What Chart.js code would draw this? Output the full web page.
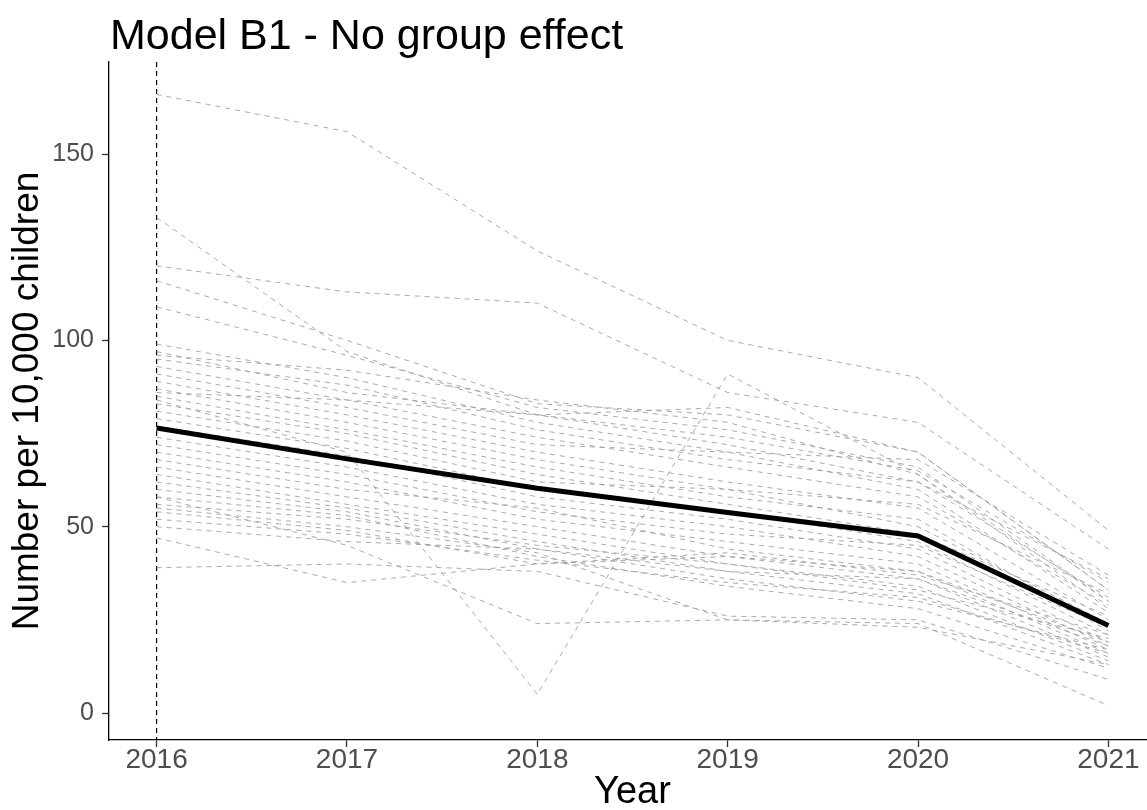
<!DOCTYPE html>
<html>
<head>
<meta charset="utf-8">
<script src="https://cdn.jsdelivr.net/npm/chart.js@4"></script>
<style>
  html, body { margin: 0; padding: 0; overflow: hidden; background: #fff; }
  #wrap { position: relative; width: 1147px; height: 810px; }
  #title {
    position: absolute; left: 110px; top: 13px; margin: 0;
    font: 43px "Liberation Sans", Arial, sans-serif; line-height: 1; color: #000;
    font-weight: normal;
  }
  canvas { position: absolute; left: 0; top: 0; }
</style>
</head>
<body>
<div id="wrap">
  <canvas id="myChart" width="1156" height="810"></canvas>
  <h1 id="title">Model B1 - No group effect</h1>
</div>
<script>
// Jahre und Achsen
const years = [2016, 2017, 2018, 2019, 2020, 2021];
const yTicks = [0, 50, 100, 150];
const refYear = 2016;

// durchgezogene Linie (Modell ohne Gruppeneffekt)
const modelLine = [76.5, 68.2, 60.3, 53.8, 47.5, 23.5];

// einzelne Gruppen (gestrichelt), je Zeile ein Verlauf 2016-2021
const groupValues = [
  [166, 156, 124, 100, 90, 49],
  [133, 97, 80, 72, 62, 36],
  [120, 113, 110, 86, 78, 44],
  [116, 100, 83, 80, 70, 33],
  [109, 96, 82, 76, 66, 30],
  [84, 70, 5, 91, 64, 28],
  [39, 40, 38, 26, 25, 9],
  [47, 35, 40, 42, 38, 19],
  [58, 45, 24, 25, 24, 2],
  [55, 50, 43, 25, 23, 13],
  [99, 90, 78, 70, 68, 37],
  [97, 86, 80, 74, 65, 35],
  [95, 88, 76, 68, 62, 31],
  [93, 84, 74, 66, 58, 29],
  [91, 82, 72, 70, 60, 27],
  [89, 80, 70, 62, 55, 25],
  [87, 78, 68, 60, 56, 32],
  [85, 76, 66, 58, 52, 22],
  [83, 75, 64, 56, 48, 26],
  [81, 73, 62, 60, 50, 24],
  [79, 71, 60, 54, 46, 21],
  [77, 69, 58, 52, 44, 19],
  [74, 66, 56, 50, 42, 18],
  [72, 64, 54, 48, 45, 23],
  [70, 62, 52, 46, 40, 17],
  [68, 60, 55, 44, 38, 16],
  [66, 58, 50, 42, 36, 15],
  [64, 56, 48, 40, 34, 14],
  [62, 55, 46, 38, 32, 13],
  [60, 54, 44, 36, 30, 17],
  [58, 53, 42, 34, 28, 12],
  [56, 52, 45, 40, 33, 20],
  [54, 49, 40, 43, 37, 21],
  [52, 48, 41, 35, 31, 16],
  [50, 46, 44, 38, 36, 18],
  [96, 92, 84, 78, 64, 30],
  [86, 84, 80, 82, 70, 33]
];

const toPoints = vals => vals.map((v, i) => ({ x: years[i], y: v }));

const datasets = [{
  data: toPoints(modelLine),
  borderColor: '#000',
  borderWidth: 5,
  pointRadius: 0,
  tension: 0
}];
groupValues.forEach(row => {
  datasets.push({
    data: toPoints(row),
    borderColor: 'rgba(155,155,155,0.85)',
    borderWidth: 1,
    borderDash: [5, 5],
    pointRadius: 0,
    tension: 0
  });
});

// senkrechte gestrichelte Linie beim Startjahr
const refLine = {
  id: 'refLine',
  beforeDatasetsDraw(chart) {
    const ctx = chart.ctx, area = chart.chartArea;
    const x = chart.scales.x.getPixelForValue(refYear);
    ctx.save();
    ctx.strokeStyle = '#000';
    ctx.lineWidth = 1.2;
    ctx.setLineDash([5, 4]);
    ctx.beginPath();
    ctx.moveTo(x, area.top);
    ctx.lineTo(x, area.bottom);
    ctx.stroke();
    ctx.restore();
  }
};

const fontFam = '"Liberation Sans", Arial, sans-serif';

new Chart('myChart', {
  type: 'line',
  data: { datasets: datasets },
  plugins: [refLine],
  options: {
    responsive: false,
    devicePixelRatio: 1,
    animation: false,
    layout: { padding: { top: 62, right: 0, left: 0, bottom: 0 } },
    plugins: { legend: { display: false }, tooltip: { enabled: false } },
    scales: {
      x: {
        type: 'linear',
        min: 2015.75,
        max: 2021.25,
        afterFit: s => { s.height = 70; },
        afterBuildTicks: s => { s.ticks = years.map(v => ({ value: v })); },
        border: { display: true, color: '#000', width: 1.3 },
        grid: { drawOnChartArea: false, tickLength: 7, tickColor: '#333', tickWidth: 1.3 },
        ticks: { color: '#4d4d4d', padding: 2, font: { family: fontFam, size: 28, lineHeight: 0.8 }, callback: v => String(v) },
        title: { display: true, text: 'Year', color: '#000', font: { family: fontFam, size: 38, lineHeight: 0.9 }, padding: { top: 0, bottom: 0 } }
      },
      y: {
        type: 'linear',
        min: -7.24,
        max: 174.7,
        afterFit: s => { s.width = 109; },
        afterBuildTicks: s => { s.ticks = yTicks.map(v => ({ value: v })); },
        border: { display: true, color: '#000', width: 1.3 },
        grid: { drawOnChartArea: false, tickLength: 7, tickColor: '#333', tickWidth: 1.3 },
        ticks: { color: '#4d4d4d', padding: 8, font: { family: fontFam, size: 25 } },
        title: { display: true, text: 'Number per 10,000 children', color: '#000', font: { family: fontFam, size: 37, lineHeight: 1.2 }, padding: { top: 6, bottom: 0 } }
      }
    }
  }
});
</script>
</body>
</html>
